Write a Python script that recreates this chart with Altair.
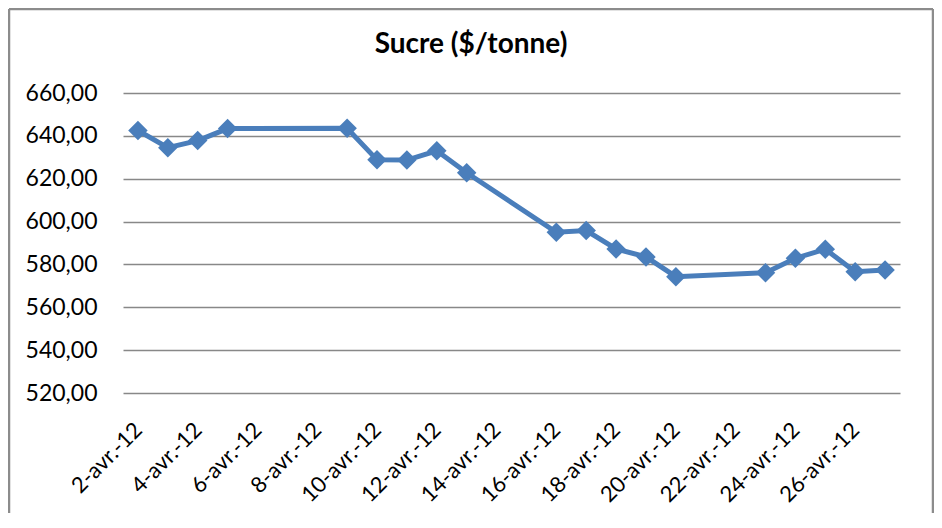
import altair as alt
import pandas as pd

dates = ["2012-04-02", "2012-04-03", "2012-04-04", "2012-04-05", "2012-04-09",
         "2012-04-10", "2012-04-11", "2012-04-12", "2012-04-13", "2012-04-16",
         "2012-04-17", "2012-04-18", "2012-04-19", "2012-04-20", "2012-04-23",
         "2012-04-24", "2012-04-25", "2012-04-26", "2012-04-27"]
prices = [642.5, 634.5, 637.8, 643.4, 643.5, 628.8, 628.7, 633.0, 622.8, 595.0,
          595.8, 587.2, 583.5, 574.3, 576.1, 582.9, 587.1, 576.6, 577.4]
tick_days = [2, 4, 6, 8, 10, 12, 14, 16, 18, 20, 22, 24, 26]
y_ticks = [520, 540, 560, 580, 600, 620, 640, 660]
title_text = "Sucre ($/tonne)"

df = pd.DataFrame({"date": dates, "price": prices})
one = pd.DataFrame({"a": [0]})

FONT = "Lato"

x_enc = alt.X(
    "date:T",
    scale=alt.Scale(
        type="utc",
        domain=[alt.DateTime(year=2012, month=4, date=1, hours=12, utc=True),
                alt.DateTime(year=2012, month=4, date=27, hours=12, utc=True)],
    ),
    axis=alt.Axis(
        title=None,
        values=[alt.DateTime(year=2012, month=4, date=d, utc=True) for d in tick_days],
        labelExpr="utcdate(datum.value) + '-avr.-12'",
        labelAngle=-45,
        labelAlign="right",
        labelBaseline="top",
        labelPadding=26,
        labelOffset=-7,
        labelOverlap=False,
        labelFont=FONT,
        labelFontSize=22,
        labelColor="#000000",
        domain=False,
        ticks=False,
        tickSize=0,
        grid=False,
    ),
)
y_enc = alt.Y(
    "price:Q",
    scale=alt.Scale(domain=[520, 660], nice=False, zero=False),
    axis=alt.Axis(
        title=None,
        values=y_ticks,
        labelExpr="replace(format(datum.value, '.2f'), '.', ',')",
        labelPadding=26,
        labelFont=FONT,
        labelFontSize=23,
        labelColor="#000000",
        domain=False,
        ticks=False,
        tickSize=0,
        grid=True,
        gridColor="#888888",
        gridWidth=1.6,
    ),
)

base = alt.Chart(df)
line = base.mark_line(color="#4A7EBB", strokeWidth=5).encode(x=x_enc, y=y_enc)
pts = base.mark_point(shape="diamond", filled=True, size=380, color="#4A7EBB",
                      opacity=1).encode(x=x_enc, y=y_enc)

title = alt.Chart(one).mark_text(
    text=title_text, font=FONT, fontSize=28, fontWeight="bold", color="#000000",
    align="center", baseline="alphabetic"
).encode(x=alt.value(348), y=alt.value(-40))

border_color = "#8C8C8C"
left_b = alt.Chart(one).mark_rule(color=border_color, strokeWidth=2.5).encode(
    x=alt.value(-114), y=alt.value(-84), y2=alt.value(420))
top_b = alt.Chart(one).mark_rule(color=border_color, strokeWidth=2.5).encode(
    x=alt.value(-114), x2=alt.value(810), y=alt.value(-84))
right_b = alt.Chart(one).mark_rule(color=border_color, strokeWidth=2.5).encode(
    x=alt.value(810), y=alt.value(-84), y2=alt.value(420))

chart = alt.layer(left_b, top_b, right_b, title, line, pts).properties(
    width=777,
    height=300,
    autosize=alt.AutoSizeParams(type="none"),
    padding={"left": 115, "top": 85, "right": 34, "bottom": 120},
    background="white",
).configure_view(stroke=None)

chart.save("out.html", embed_options={"renderer": "svg", "actions": False})
